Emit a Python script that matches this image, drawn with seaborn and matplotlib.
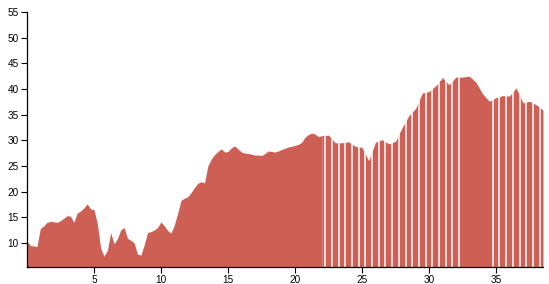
import numpy as np
import pandas as pd
import matplotlib
matplotlib.use("Agg")
import matplotlib.pyplot as plt
import seaborn as sns

# distance (km) and elevation values
left_dist = [i * 0.25 for i in range(89)]  # 0.0 .. 22.0
left_elev = [10.3, 9.5, 9.4, 9.3, 12.8, 13.3, 14.0, 14.2, 14.1, 14.0, 14.3, 14.8,
             15.3, 15.2, 14.0, 15.8, 16.2, 16.8, 17.6, 16.6, 16.5, 13.8, 9.0, 7.4,
             8.5, 12.0, 9.8, 10.8, 12.5, 13.0, 10.9, 10.5, 10.0, 7.8, 7.6, 9.6,
             12.0, 12.2, 12.5, 13.0, 14.1, 13.3, 12.4, 11.9, 13.5, 15.8, 18.3, 18.7,
             19.0, 19.8, 20.8, 21.6, 21.9, 21.7, 25.0, 26.3, 27.2, 27.8, 28.3, 27.7,
             27.8, 28.5, 28.9, 28.3, 27.7, 27.5, 27.4, 27.3, 27.1, 27.1, 27.0, 27.4,
             27.9, 27.8, 27.7, 27.9, 28.2, 28.4, 28.7, 28.8, 29.0, 29.2, 29.6, 30.6,
             31.1, 31.4, 31.2, 30.7, 30.9]
right_dist = [22.0 + i * 0.5 for i in range(34)]  # 22.0 .. 38.5
right_elev = [30.9, 31.0, 29.5, 29.5, 29.7, 28.8, 28.6, 26.0, 29.6, 30.1, 29.3, 29.8,
              32.5, 34.8, 36.2, 39.2, 39.5, 40.6, 42.2, 40.8, 42.3, 42.3, 42.5, 41.3,
              39.0, 37.6, 38.3, 38.7, 38.6, 40.2, 37.3, 37.6, 36.9, 35.9]
x_ticks = [5, 10, 15, 20, 25, 30, 35]
y_ticks = [10, 15, 20, 25, 30, 35, 40, 45, 50, 55]

color = "#cd5f55"

sns.set_style("ticks")
plt.rcParams["font.family"] = ["Liberation Sans", "DejaVu Sans"]

fig = plt.figure(figsize=(5.49, 2.84), dpi=100)
ax = fig.add_axes([0.049, 0.06, 0.940, 0.898])

lstep, rstep = 0.25, 0.5
left = pd.DataFrame({"dist": left_dist, "elev": left_elev})
right = pd.DataFrame({"dist": right_dist, "elev": right_elev})

sns.histplot(data=left, x="dist", weights="elev", binwidth=lstep,
             binrange=(left_dist[0] - lstep / 2, left_dist[-1] + lstep / 2), ax=ax,
             color=color, alpha=1, linewidth=0, element="poly")
sns.histplot(data=right, x="dist", weights="elev", binwidth=rstep,
             binrange=(right_dist[0] - rstep / 2, right_dist[-1] + rstep / 2), ax=ax,
             color=color, alpha=1, linewidth=0, element="poly")

ax.set_xlim(0, 38.5)
ax.set_ylim(5.3, 55)

# white separators between the segments of the second part
seps = [d + rstep / 2 for d in right_dist[:-1] if not (32.4 < d < 34.2)]
ax.vlines(seps, 5.3, 55, colors="white", linewidth=1.1)

ax.set_xticks(x_ticks)
ax.set_yticks(y_ticks)
ax.set_xlabel("")
ax.set_ylabel("")
for s in ["top", "right"]:
    ax.spines[s].set_visible(False)
for s in ["left", "bottom"]:
    ax.spines[s].set_color("black")
    ax.spines[s].set_linewidth(0.9)
    ax.spines[s].set_zorder(5)
ax.tick_params(axis="both", labelsize=7.2, length=4, width=0.8, color="black",
               pad=2, labelcolor="black")
ax.grid(False)

fig.savefig("out.png", dpi=100)
